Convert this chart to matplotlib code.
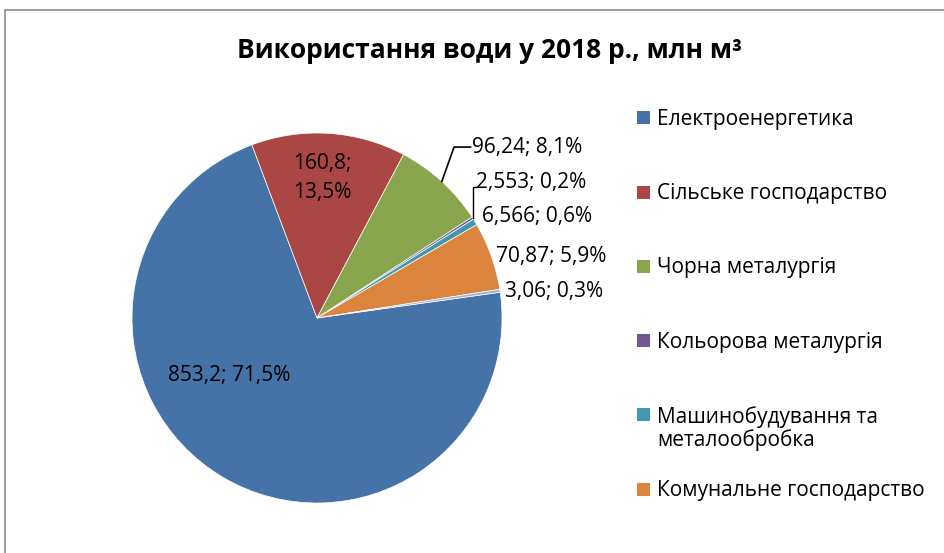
import matplotlib.pyplot as plt
import matplotlib.patches as patches
import numpy as np

plt.rcParams['font.family'] = ['Open Sans', 'DejaVu Sans']

categories = ["Електроенергетика", "Сільське господарство", "Чорна металургія",
              "Кольорова металургія", "Машинобудування та\nметалообробка",
              "Комунальне господарство", "Інші"]
values = [853.2, 160.8, 96.24, 2.553, 6.566, 70.87, 3.06]
value_labels = ["853,2", "160,8", "96,24", "2,553", "6,566", "70,87", "3,06"]
pct_labels = ["71,5%", "13,5%", "8,1%", "0,2%", "0,6%", "5,9%", "0,3%"]
colors = ["#4572A7", "#AA4643", "#89A54E", "#71588F", "#4198AF", "#DB843D", "#9DB3D9"]

W, H = 944, 553
fig = plt.figure(figsize=(W / 100, H / 100), dpi=100)

# chart area border
fig.patches.append(patches.Rectangle((5 / W, -0.1), 1.2, (H - 10) / H + 0.1,
                                     transform=fig.transFigure, fill=False,
                                     edgecolor="#8c8c8c", linewidth=1.2))

# pie axes: centre at (317, 318) px, radius 185 px
cx, cy, r = 317, 318, 185
ax = fig.add_axes([(cx - r) / W, (H - cy - r) / H, 2 * r / W, 2 * r / H])
wedges, _ = ax.pie(values, colors=colors, startangle=8, counterclock=False,
                   radius=1, wedgeprops=dict(linewidth=0.5, edgecolor="white"))
ax.set_xlim(-1, 1)
ax.set_ylim(-1, 1)
ax.set_aspect("equal")
ax.axis("off")

fs = 15
# data labels (position in data units, alignment)
lab_pos = [(-0.475, -0.31, "center"), (0.027, 0.757, "center"),
           (0.84, 0.924, "left"), (0.859, 0.735, "left"), (0.892, 0.551, "left"),
           (0.968, 0.335, "left"), (1.016, 0.141, "left")]
for i, (x, y, ha) in enumerate(lab_pos):
    sep = ";\n" if i == 1 else "; "
    ax.text(x, y, value_labels[i] + sep + pct_labels[i], ha=ha, va="center",
            fontsize=fs, color="black", clip_on=False, linespacing=1.45)


def edge_point(w):
    a = np.deg2rad((w.theta1 + w.theta2) / 2)
    return np.cos(a), np.sin(a)


# leader lines
ex, ey = edge_point(wedges[2])
ax.plot([ex, 0.741, 0.83], [ey, 0.924, 0.924], color="black", lw=1.2, clip_on=False)
ex, ey = edge_point(wedges[3])
ax.plot([ex, ex, 0.86], [ey, 0.71, 0.71], color="black", lw=1.0, clip_on=False)

# title
fig.text(490 / W, 1 - 50 / H, "Використання води у 2018 р., млн м³",
         ha="center", va="center", fontsize=19, fontweight="bold")

# legend (Excel style: marker aligned with the first text line)
for i in range(6):
    y = 118 + 74.2 * i
    fig.patches.append(patches.Rectangle((637 / W, 1 - (y + 6.5) / H), 13 / W, 13 / H,
                                         transform=fig.transFigure,
                                         facecolor=colors[i], edgecolor="none"))
    fig.text(657 / W, 1 - (y - 9) / H, categories[i], ha="left", va="top",
             fontsize=fs, linespacing=1.08)

fig.savefig("out.png", dpi=100)
